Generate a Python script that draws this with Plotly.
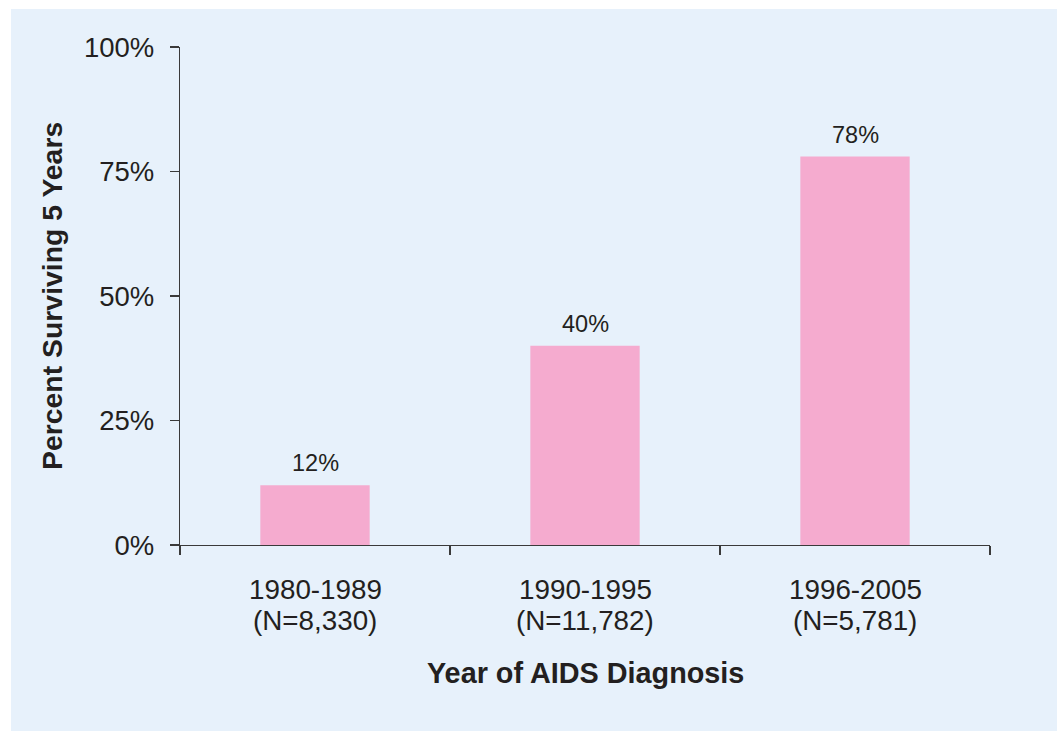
import plotly.graph_objects as go

periods = ["1980-1989", "1990-1995", "1996-2005"]
n_labels = ["(N=8,330)", "(N=11,782)", "(N=5,781)"]
values = [12, 40, 78]
value_labels = ["12%", "40%", "78%"]
y_ticks = [0, 25, 50, 75, 100]
y_tick_labels = ["0%", "25%", "50%", "75%", "100%"]

BG = "#e7f1fb"
PINK = "#f5abcf"
TXT = "#231f20"
AX = "#3a3a3a"
FONT = "Liberation Sans, Arial, sans-serif"

fig = go.Figure()
fig.add_trace(go.Bar(
    x=periods, y=values, marker=dict(color=PINK, line=dict(width=0)),
    width=0.405, hoverinfo="skip",
))

for c, v, t in zip(periods, values, value_labels):
    fig.add_annotation(x=c, y=v, xref="x", yref="y", text=t, showarrow=False,
                       yanchor="bottom", yshift=7,
                       font=dict(family=FONT, size=23.5, color=TXT))

for c, n in zip(periods, n_labels):
    fig.add_annotation(x=c, y=0, xref="x", yref="paper", text=c, showarrow=False,
                       yanchor="middle", yshift=-44,
                       font=dict(family=FONT, size=27.8, color=TXT))
    fig.add_annotation(x=c, y=0, xref="x", yref="paper", text=n, showarrow=False,
                       yanchor="middle", yshift=-75,
                       font=dict(family=FONT, size=27.8, color=TXT))

fig.add_annotation(x=0, y=0.5, xref="paper", yref="paper", text="<b>Percent Surviving 5 Years</b>",
                   textangle=-90, showarrow=False, xanchor="center", yanchor="middle", xshift=-128,
                   font=dict(family=FONT, size=28.4, color=TXT))
fig.add_annotation(x=0.5, y=0, xref="paper", yref="paper", text="<b>Year of AIDS Diagnosis</b>",
                   showarrow=False, xanchor="center", yanchor="middle", yshift=-128,
                   font=dict(family=FONT, size=28.8, color=TXT))

W, H = 1057, 731
L, R, T, B = 180, 67, 47, 186
pw, ph = W - L - R, H - T - B
# white strips at top and left outside the blue panel
fig.add_shape(type="rect", xref="paper", yref="paper", layer="below",
              x0=-L / pw - 0.05, x1=(11 - L) / pw, y0=-B / ph - 0.05, y1=1 + T / ph + 0.05,
              fillcolor="white", line=dict(width=0))
fig.add_shape(type="rect", xref="paper", yref="paper", layer="below",
              x0=-L / pw - 0.05, x1=1 + R / pw + 0.05, y0=1 + (T - 9) / ph, y1=1 + T / ph + 0.05,
              fillcolor="white", line=dict(width=0))

fig.update_layout(
    width=W, height=H,
    margin=dict(l=L, r=R, t=T, b=B, pad=0),
    paper_bgcolor=BG, plot_bgcolor=BG,
    showlegend=False,
    hovermode=False,
    font=dict(family=FONT, color=TXT),
    xaxis=dict(
        showline=True, linecolor=AX, linewidth=1.2,
        ticks="outside", tickson="boundaries", ticklen=9, tickcolor=AX, tickwidth=1.2,
        showticklabels=False,
        showgrid=False, zeroline=False,
    ),
    yaxis=dict(
        range=[0, 100], tickvals=y_ticks, ticktext=y_tick_labels,
        showline=True, linecolor=AX, linewidth=1.2,
        ticks="outside", ticklen=9, tickcolor=AX, tickwidth=1.2,
        tickfont=dict(family=FONT, size=27.5, color=TXT),
        showgrid=False, zeroline=False, ticklabelstandoff=10,
    ),
)

fig.write_html(
    "out.html",
    config={"displayModeBar": False, "staticPlot": True},
    post_script=(
        "document.body.style.margin='0px';"
        "document.body.style.overflow='hidden';"
        "document.body.style.background='" + BG + "';"
    ),
)
